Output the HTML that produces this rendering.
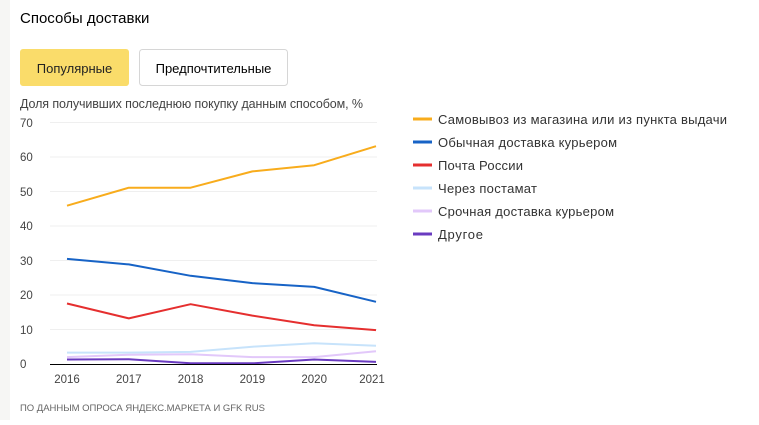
<!DOCTYPE html>
<html><head><meta charset="utf-8"><style>
body{margin:0;width:759px;height:420px;background:#fff;overflow:hidden;font-family:"Liberation Sans",sans-serif;}
</style></head><body>
<svg width="759" height="420" xmlns="http://www.w3.org/2000/svg" font-family="Liberation Sans, sans-serif">
<rect x="0" y="0" width="10" height="420" fill="#f6f6f4"/>
<text x="20" y="23" font-size="15" fill="#000">Способы доставки</text>
<rect x="20" y="49" width="109" height="37" rx="3" fill="#fadc6a"/>
<text x="74.5" y="73" font-size="13" fill="#222" text-anchor="middle">Популярные</text>
<rect x="139.5" y="49.5" width="148" height="36" rx="3" fill="#fff" stroke="#d6d6d6"/>
<text x="213.5" y="73" font-size="13" fill="#000" text-anchor="middle">Предпочтительные</text>
<text x="20" y="108" font-size="12.5" fill="#444" textLength="343">Доля получивших последнюю покупку данным способом, %</text>
<g stroke="#efefef" stroke-width="1">
<line x1="50" x2="377" y1="122.5" y2="122.5"/><line x1="50" x2="377" y1="157" y2="157"/>
<line x1="50" x2="377" y1="191.5" y2="191.5"/><line x1="50" x2="377" y1="226" y2="226"/>
<line x1="50" x2="377" y1="260.5" y2="260.5"/><line x1="50" x2="377" y1="295" y2="295"/>
<line x1="50" x2="377" y1="329.5" y2="329.5"/>
</g>
<g font-size="11.5" fill="#444">
<text x="20" y="127">70</text><text x="20" y="161">60</text><text x="20" y="196">50</text>
<text x="20" y="230">40</text><text x="20" y="265">30</text><text x="20" y="299">20</text>
<text x="20" y="334">10</text><text x="20" y="368">0</text>
</g>
<g font-size="11.5" fill="#444" text-anchor="middle">
<text x="67" y="383">2016</text><text x="128.8" y="383">2017</text><text x="190.6" y="383">2018</text>
<text x="252.4" y="383">2019</text><text x="314.2" y="383">2020</text><text x="372" y="383">2021</text>
</g>
<g fill="none" stroke-width="2" stroke-linejoin="round">
<polyline stroke="#c7e3fb" points="67,352.6 128.8,352.6 190.6,351.9 252.4,346.7 314.2,343.3 376,345.7"/>
<polyline stroke="#e2c8fa" points="67,357.1 128.8,354.7 190.6,354.3 252.4,357.1 314.2,357.1 376,351.2"/>
<polyline stroke="#6a3bc0" points="67,359.5 128.8,359.2 190.6,363.3 252.4,363.3 314.2,359.5 376,361.9"/>
<polyline stroke="#e52f2f" points="67,303.5 128.8,318.4 190.6,304.2 252.4,315.6 314.2,325.3 376,330.1"/>
<polyline stroke="#1763c6" points="67,258.9 128.8,264.4 190.6,275.8 252.4,283.1 314.2,286.9 376,301.8"/>
<polyline stroke="#f8ac1c" points="67,205.7 128.8,187.7 190.6,187.7 252.4,171.4 314.2,165.2 376,146.2"/>
</g>
<line x1="50" x2="377" y1="364.5" y2="364.5" stroke="#000" stroke-width="1"/>
<text x="20" y="411" font-size="9.5" fill="#666" textLength="245">ПО ДАННЫМ ОПРОСА ЯНДЕКС.МАРКЕТА И GFK RUS</text>
<g stroke-width="3">
<line x1="413" x2="432" y1="119" y2="119" stroke="#f8ac1c"/>
<line x1="413" x2="432" y1="142" y2="142" stroke="#1763c6"/>
<line x1="413" x2="432" y1="165" y2="165" stroke="#e52f2f"/>
<line x1="413" x2="432" y1="188" y2="188" stroke="#c7e3fb"/>
<line x1="413" x2="432" y1="211" y2="211" stroke="#e2c8fa"/>
<line x1="413" x2="432" y1="234" y2="234" stroke="#6a3bc0"/>
</g>
<g font-size="13" fill="#333">
<text x="438" y="124" textLength="289">Самовывоз из магазина или из пункта выдачи</text>
<text x="438" y="147" textLength="179">Обычная доставка курьером</text>
<text x="438" y="170" textLength="85">Почта России</text>
<text x="438" y="193" textLength="99">Через постамат</text>
<text x="438" y="216" textLength="176">Срочная доставка курьером</text>
<text x="438" y="239" textLength="45">Другое</text>
</g>
</svg>
</body></html>
